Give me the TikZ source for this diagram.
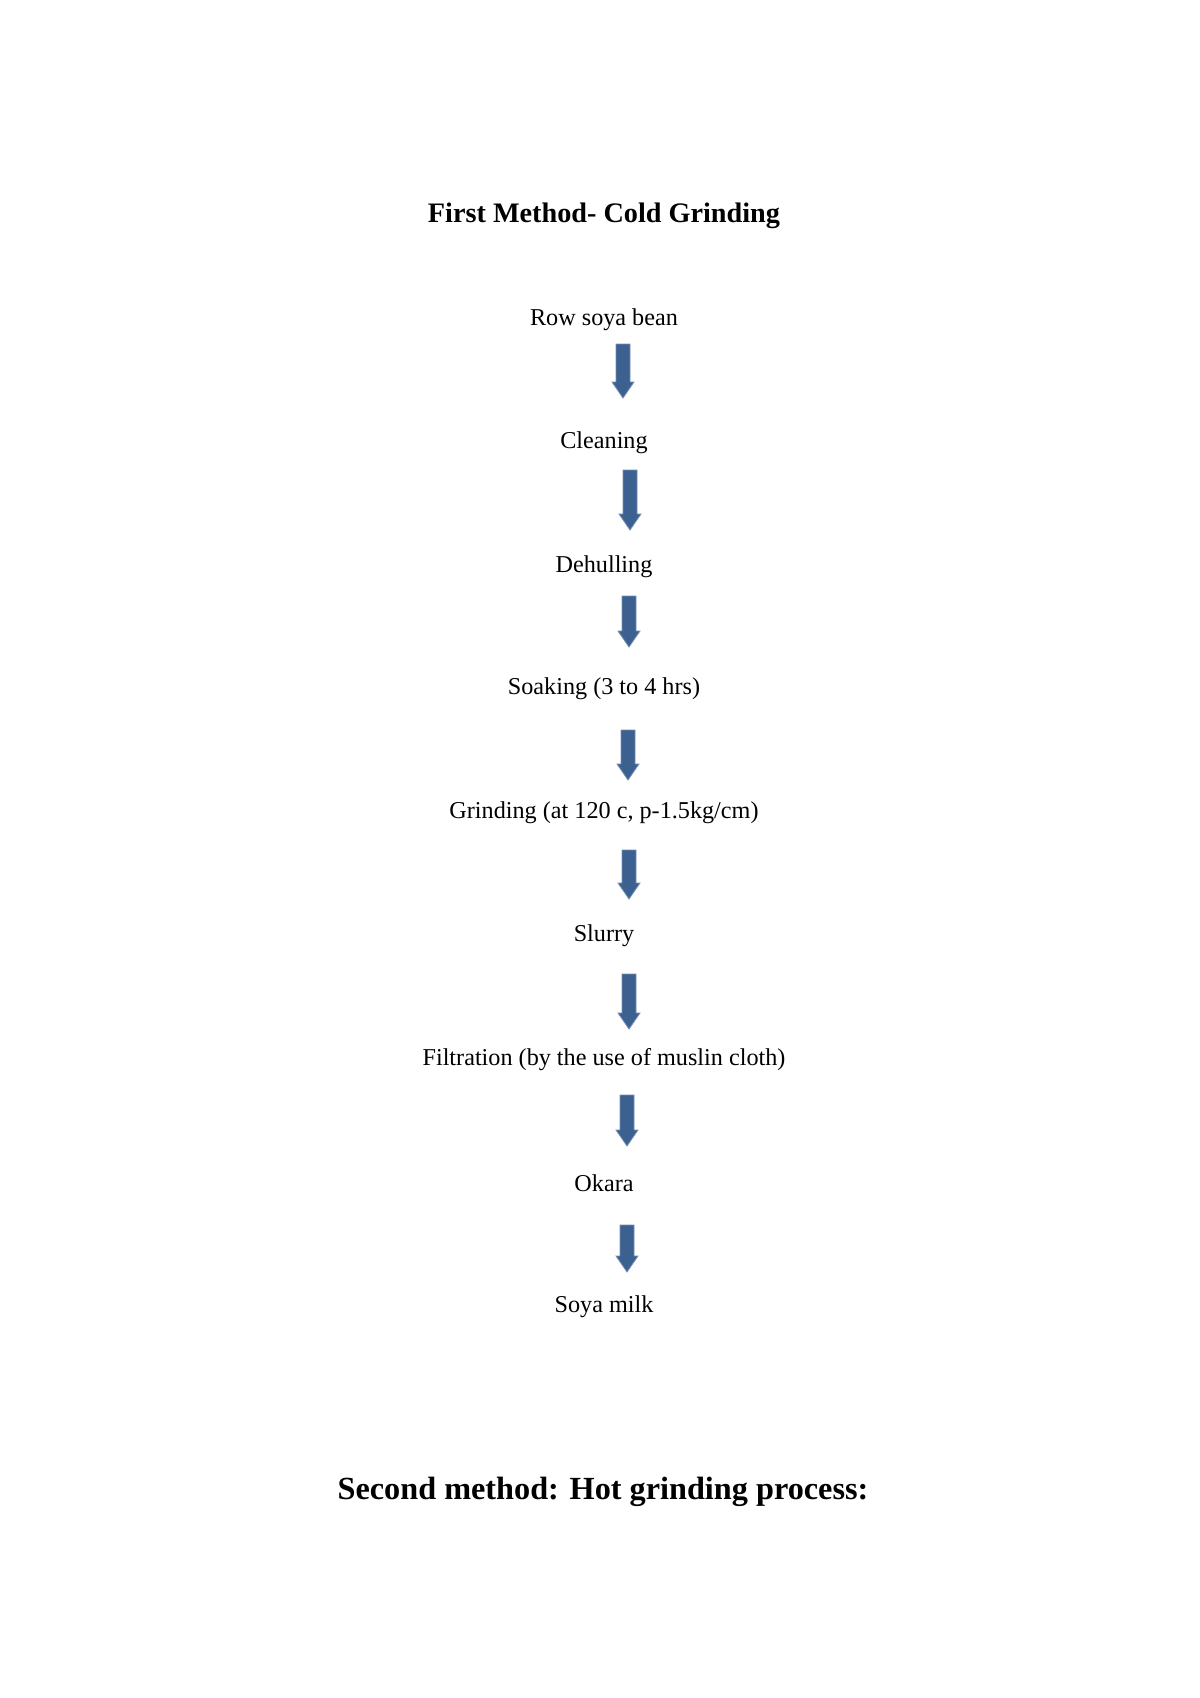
\documentclass[tikz,border=0pt]{standalone}
\usepackage{fontspec}
\setmainfont{Liberation Serif}
\definecolor{arr}{HTML}{3C6090}
\begin{document}
\begin{tikzpicture}[x=0.496pt,y=-0.496pt,
  lbl/.style={font=\fontsize{12}{14}\selectfont, inner sep=0pt},
  ttl/.style={font=\fontsize{14}{16}\selectfont\bfseries, inner sep=0pt},
  arrowshape/.style={fill=arr, draw=arr!70!white, line width=0.4pt}]
\useasboundingbox (0,0) rectangle (1200,1698);
\newcommand\downarr[3]{% x, ytop, ybottom
  \fill[arrowshape] (#1-7,#2) -- (#1+7,#2) -- (#1+7,#3-16) -- (#1+11,#3-16) -- (#1,#3) -- (#1-11,#3-16) -- (#1-7,#3-16) -- cycle;}
\node[ttl] (t) at (604,216) {First Method- Cold Grinding};
\node[lbl] (n1) at (604,320) {Row soya bean};
\node[lbl] (n2) at (604,443) {Cleaning};
\node[lbl] (n3) at (604,567) {Dehulling};
\node[lbl] (n4) at (604,689) {Soaking (3 to 4 hrs)};
\node[lbl] (n5) at (604,813) {Grinding (at 120 c, p-1.5kg/cm)};
\node[lbl] (n6) at (604,936) {Slurry};
\node[lbl] (n7) at (604,1060) {Filtration (by the use of muslin cloth)};
\node[lbl] (n8) at (604,1183) {Okara};
\node[lbl] (n9) at (604,1307) {Soya milk};
\node[font=\fontsize{16}{18}\selectfont\bfseries, inner sep=0pt] (s) at (603,1492) {Second method: Hot grinding process:};
\downarr{623}{344}{398}
\downarr{630}{470}{530}
\downarr{629}{596}{647}
\downarr{628}{730}{780}
\downarr{629}{850}{899}
\downarr{629}{974}{1029}
\downarr{627}{1095}{1146}
\downarr{627}{1225}{1272}
\end{tikzpicture}
\end{document}
